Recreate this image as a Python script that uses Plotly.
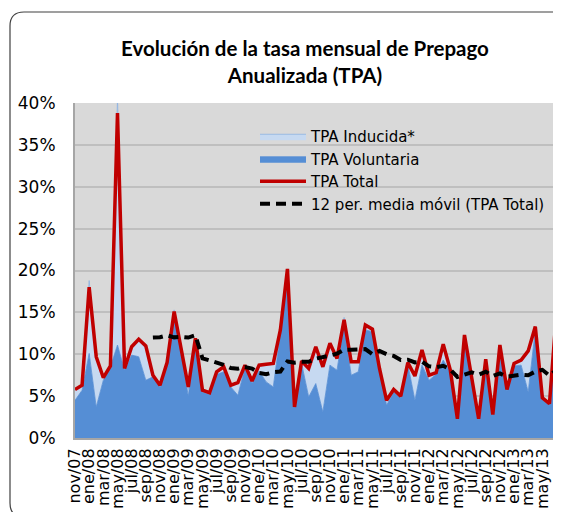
import plotly.graph_objects as go
import pandas as pd

# Monthly periods nov/07 .. ago/13
meses = ["nov/07","dic/07","ene/08","feb/08","mar/08","abr/08","may/08","jun/08","jul/08","ago/08","sep/08","oct/08",
         "nov/08","dic/08","ene/09","feb/09","mar/09","abr/09","may/09","jun/09","jul/09","ago/09","sep/09","oct/09",
         "nov/09","dic/09","ene/10","feb/10","mar/10","abr/10","may/10","jun/10","jul/10","ago/10","sep/10","oct/10",
         "nov/10","dic/10","ene/11","feb/11","mar/11","abr/11","may/11","jun/11","jul/11","ago/11","sep/11","oct/11",
         "nov/11","dic/11","ene/12","feb/12","mar/12","abr/12","may/12","jun/12","jul/12","ago/12","sep/12","oct/12",
         "nov/12","dic/12","ene/13","feb/13","mar/13","abr/13","may/13","jun/13","jul/13","ago/13"]

# TPA Total (%)
tpa_total = [5.8, 6.3, 18.0, 9.7, 7.2, 8.6, 38.8, 8.3, 10.9, 11.8, 11.0, 7.5,
             6.3, 9.0, 15.1, 10.5, 6.1, 11.9, 5.7, 5.4, 7.9, 8.5, 6.3, 6.6,
             8.7, 6.8, 8.7, 8.8, 8.9, 12.9, 20.2, 3.7, 9.2, 8.3, 10.9, 8.5,
             11.3, 9.5, 14.1, 9.1, 9.1, 13.5, 13.0, 8.3, 4.5, 5.8, 5.0, 9.0,
             7.4, 10.5, 7.5, 7.8, 11.2, 8.1, 2.3, 12.3, 7.3, 2.3, 9.4, 2.8,
             11.1, 5.8, 8.9, 9.3, 10.4, 13.3, 4.8, 4.1, 15.1, 4.0]

# TPA Voluntaria (%)
tpa_voluntaria = [4.5, 5.7, 10.1, 3.7, 6.9, 8.5, 11.1, 8.1, 9.9, 9.7, 6.9, 7.3,
                  6.1, 8.9, 14.5, 10.2, 5.0, 11.7, 5.5, 5.2, 7.6, 7.9, 6.1, 5.1,
                  8.4, 6.6, 8.0, 6.7, 6.1, 12.5, 19.8, 3.6, 8.9, 4.9, 6.5, 3.1,
                  8.7, 8.1, 13.5, 7.5, 7.9, 12.9, 12.7, 8.1, 3.9, 5.5, 4.8, 8.8,
                  4.5, 8.7, 6.9, 7.6, 9.3, 7.9, 2.2, 12.0, 7.1, 2.2, 9.1, 2.7,
                  10.8, 5.6, 8.6, 8.7, 5.5, 12.9, 4.6, 3.9, 14.8, 3.8]

# TPA Inducida* (%)
tpa_inducida = [1.3, 0.6, 8.7, 6.0, 0.3, 0.1, 29.5, 0.2, 1.0, 2.1, 4.1, 0.2,
                0.2, 0.1, 0.8, 0.3, 0.8, 0.2, 0.2, 0.2, 0.3, 0.6, 0.2, 1.5,
                0.3, 0.2, 0.7, 2.1, 2.8, 0.4, 0.4, 0.1, 0.3, 3.4, 4.4, 5.4,
                2.6, 1.4, 0.9, 1.6, 1.2, 0.6, 0.3, 0.2, 0.6, 0.3, 0.2, 0.2,
                2.9, 1.8, 0.6, 0.2, 1.9, 0.2, 0.1, 0.3, 0.2, 0.1, 0.3, 0.1,
                0.3, 0.2, 0.3, 0.6, 4.9, 0.4, 0.2, 0.2, 0.9, 0.2]

tick_every = 2
y_ticks = [0, 5, 10, 15, 20, 25, 30, 35, 40]

idx = list(range(len(meses)))
tot = pd.Series(tpa_total) / 100
media_movil = tot.rolling(12).mean()

vol = [v / 100 for v in tpa_voluntaria]
ind = [v / 100 for v in tpa_inducida]

fig = go.Figure()
fig.add_trace(go.Scatter(x=idx, y=vol, name="TPA Voluntaria", stackgroup="one",
                         mode="lines", line=dict(width=0.8, color="#558ed5"),
                         fillcolor="#558ed5", legendrank=2))
fig.add_trace(go.Scatter(x=idx, y=ind, name="TPA Inducida*", stackgroup="one",
                         mode="lines", line=dict(width=0.8, color="#8db3e2"),
                         fillcolor="#c6d9f1", legendrank=1))
fig.add_trace(go.Scatter(x=idx, y=list(tot), name="TPA Total", mode="lines",
                         line=dict(width=3.5, color="#c00000"), legendrank=3))
fig.add_trace(go.Scatter(x=idx, y=list(media_movil), name="12 per. media móvil (TPA Total)",
                         mode="lines", line=dict(width=4, color="#000000", dash="10px,6px"),
                         legendrank=4))

# figure is placed by the page with an 8px body margin
W, H = 545, 504
L, T, R, B = 67, 95, 545, 430
def px2x(px):
    return (px - L) / (R - L)
def px2y(py):
    return (B - py) / (B - T)

fl, ft, fr, fb, rr = 2, 4, 640, 509, 14
path = (f"M {px2x(fl+rr)},{px2y(ft)} L {px2x(fr)},{px2y(ft)} L {px2x(fr)},{px2y(fb)} "
        f"L {px2x(fl+rr)},{px2y(fb)} Q {px2x(fl)},{px2y(fb)} {px2x(fl)},{px2y(fb-rr)} "
        f"L {px2x(fl)},{px2y(ft+rr)} Q {px2x(fl)},{px2y(ft)} {px2x(fl+rr)},{px2y(ft)} Z")

fig.update_layout(
    width=W, height=H,
    margin=dict(l=L, r=W - R, t=T, b=H - B, pad=0),
    paper_bgcolor="white", plot_bgcolor="#d9d9d9",
    font=dict(family="DejaVu Sans", size=16, color="black"),
    title=dict(text="<b>Evolución de la tasa mensual de Prepago<br>Anualizada (TPA)</b>",
               x=297 / W, xanchor="center", xref="container",
               y=1 - 48 / H, yanchor="top", yref="container",
               font=dict(family="Lato", size=20.5, color="black")),
    showlegend=True,
    legend=dict(x=px2x(247), y=px2y(112), xanchor="left", yanchor="top",
                traceorder="normal",
                bgcolor="rgba(0,0,0,0)", font=dict(family="DejaVu Sans", size=15),
                itemwidth=46, tracegroupgap=0),
    shapes=[dict(type="path", path=path, xref="paper", yref="paper",
                 line=dict(color="#404040", width=1.2), fillcolor="rgba(0,0,0,0)", layer="below")],
)
fig.update_xaxes(range=[0, 67.5], tickvals=idx[::tick_every], ticktext=meses[::tick_every],
                 tickangle=-90, showgrid=False, showline=True, linecolor="#a6a6a6", linewidth=2,
                 ticks="", zeroline=False, tickfont=dict(size=16), automargin=False,
                 ticklabelstandoff=2)
fig.update_yaxes(range=[0, 0.40], tickvals=[v / 100 for v in y_ticks], tickformat=".0%",
                 showgrid=True, gridcolor="#bfbfbf", gridwidth=1.5, showline=True,
                 linecolor="#a6a6a6", linewidth=2, ticks="", zeroline=False,
                 tickfont=dict(size=17), automargin=False, ticklabelstandoff=14)

fig.write_html("out.html")
